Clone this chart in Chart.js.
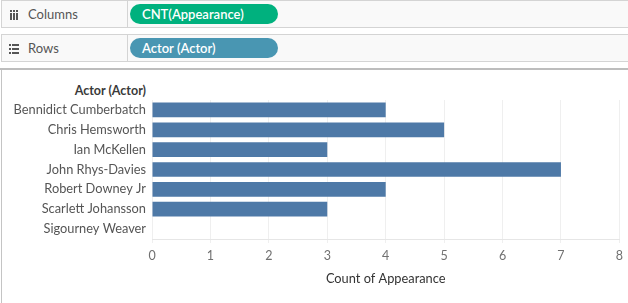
<!DOCTYPE html>
<html>
<head>
<meta charset="utf-8">
<script src="https://cdn.jsdelivr.net/npm/chart.js@4"></script>
<style>
  html, body { margin:0; padding:0; width:628px; height:303px; overflow:hidden; background:#fff; font-family: Lato, "Open Sans", sans-serif; }
  .shelf { position:absolute; left:1px; width:640px; height:26px; background:#f9f9f9; border:1px solid #d4d4d4; border-right:none; box-sizing:content-box; }
  .shelf .lab { position:absolute; left:26px; top:0; line-height:27px; font-size:13px; color:#555; }
  .shelf .div { position:absolute; left:125px; top:0; width:1px; height:26px; background:#d4d4d4; }
  .pill { position:absolute; left:128px; top:3px; width:148px; height:20px; border-radius:10px; color:#fff; font-size:13px; line-height:21px; padding-left:12px; box-sizing:border-box; font-weight:600; }
  .ic { position:absolute; background:#555; }
  #sep { position:absolute; left:0; top:68px; width:628px; height:2px; background:#bdbdbd; }
  #lborder { position:absolute; left:1px; top:70px; width:1px; height:233px; background:#c4c4c4; }
  #hdr { position:absolute; right:482px; top:82px; font-size:12.5px; font-weight:700; color:#3a3a3a; line-height:18px; }
  #wrap { position:absolute; left:0; top:70px; width:628px; height:233px; }
</style>
</head>
<body>
<div class="shelf" style="top:0px;">
  <div class="ic" style="left:8px; top:9px; width:2px; height:2px;"></div>
  <div class="ic" style="left:8px; top:12px; width:2px; height:7px;"></div>
  <div class="ic" style="left:11px; top:9px; width:2px; height:2px;"></div>
  <div class="ic" style="left:11px; top:12px; width:2px; height:7px;"></div>
  <div class="ic" style="left:14px; top:9px; width:2px; height:2px;"></div>
  <div class="ic" style="left:14px; top:12px; width:2px; height:7px;"></div>
  <div class="lab">Columns</div>
  <div class="div"></div>
  <div class="pill" style="background:#00b17e;">CNT(Appearance)</div>
</div>
<div class="shelf" style="top:34px;">
  <div class="ic" style="left:7px; top:9px; width:2px; height:2px;"></div>
  <div class="ic" style="left:10px; top:9px; width:7px; height:2px;"></div>
  <div class="ic" style="left:7px; top:13px; width:2px; height:2px;"></div>
  <div class="ic" style="left:10px; top:13px; width:7px; height:2px;"></div>
  <div class="ic" style="left:7px; top:17px; width:2px; height:2px;"></div>
  <div class="ic" style="left:10px; top:17px; width:7px; height:2px;"></div>
  <div class="lab">Rows</div>
  <div class="div"></div>
  <div class="pill" style="background:#4996b2;">Actor (Actor)</div>
</div>
<div id="sep"></div>
<div id="lborder"></div>
<div id="hdr">Actor (Actor)</div>
<div id="wrap"><canvas id="c" width="628" height="233"></canvas></div>
<script>
const actors = ["Bennidict Cumberbatch","Chris Hemsworth","Ian McKellen","John Rhys-Davies","Robert Downey Jr","Scarlett Johansson","Sigourney Weaver"];
const appearanceCounts = [4, 5, 3, 7, 4, 3, 0];
const xTicks = [0, 1, 2, 3, 4, 5, 6, 7, 8];
const xAxisTitle = "Count of Appearance";

Chart.defaults.font.family = 'Lato, "Open Sans", sans-serif';
new Chart(document.getElementById('c'), {
  type: 'bar',
  data: {
    labels: actors,
    datasets: [{
      data: appearanceCounts,
      backgroundColor: '#4e79a7',
      categoryPercentage: 1,
      barPercentage: 0.74
    }]
  },
  options: {
    indexAxis: 'y',
    responsive: false,
    animation: false,
    layout: { padding: { left: 0, right: 7, top: 30, bottom: 16 } },
    plugins: { legend: { display: false }, tooltip: { enabled: false } },
    scales: {
      y: {
        grid: { display: false, drawTicks: false },
        border: { display: false },
        ticks: { color: '#555', font: { size: 12.8 }, padding: 6 },
        afterFit: s => { s.width = 152; }
      },
      x: {
        min: 0, max: 8,
        afterBuildTicks: s => { s.ticks = xTicks.map(v => ({ value: v })); },
        grid: { color: '#efefef', lineWidth: 1, tickLength: 4, drawTicks: true },
        border: { color: '#e6e6e6' },
        ticks: { color: '#707070', font: { size: 12.5 }, padding: 5, maxRotation: 0 },
        title: { display: true, text: xAxisTitle, color: '#333', font: { size: 12.8 }, padding: { top: 4, bottom: 0 } },
        afterFit: s => { s.height = 48; }
      }
    }
  }
});
</script>
</body>
</html>
